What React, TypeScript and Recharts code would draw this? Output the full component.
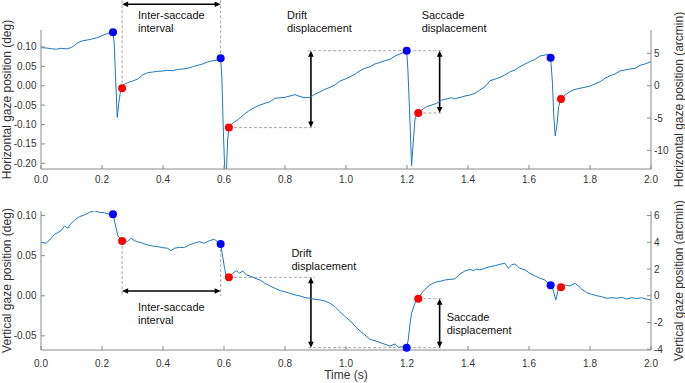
import React from 'react';
import { ComposedChart, Line, Scatter, XAxis, YAxis, ReferenceLine, ReferenceDot } from 'recharts';

// ---------- tick labels ----------
const timeTicks = [0, 0.2, 0.4, 0.6, 0.8, 1.0, 1.2, 1.4, 1.6, 1.8, 2.0];
const hDegTicks = [-0.2, -0.15, -0.1, -0.05, 0, 0.05, 0.1];
const hArcTicks = [-10, -5, 0, 5];
const vDegTicks = [-0.05, 0, 0.05, 0.1];
const vArcTicks = [-4, -2, 0, 2, 4, 6];

// ---------- horizontal trace (s, deg) ----------
const hTime = [
  0.0, 0.017, 0.034, 0.05, 0.066, 0.083, 0.099, 0.11, 0.121, 0.137, 0.153, 0.17, 0.186, 0.203, 0.219, 0.236,
  0.24, 0.244, 0.25, 0.255, 0.26, 0.266,
  0.269, 0.284, 0.3, 0.317, 0.333, 0.35, 0.366, 0.383, 0.399, 0.415, 0.432, 0.448, 0.464, 0.481, 0.497, 0.514,
  0.53, 0.546, 0.563, 0.579, 0.589,
  0.593, 0.598, 0.604, 0.608, 0.612, 0.616,
  0.625, 0.647, 0.669, 0.685, 0.702, 0.718, 0.734, 0.751, 0.767, 0.784, 0.8, 0.816, 0.833, 0.849, 0.866, 0.882,
  0.898, 0.915, 0.931, 0.948, 0.964, 0.98, 0.997, 1.013, 1.03, 1.046, 1.062, 1.079, 1.095, 1.112, 1.128, 1.144,
  1.161, 1.177, 1.19, 1.199,
  1.203, 1.207, 1.211, 1.215, 1.221, 1.226, 1.231, 1.237,
  1.248, 1.264, 1.281, 1.297, 1.313, 1.33, 1.346, 1.357, 1.374, 1.39, 1.407, 1.423, 1.439, 1.456, 1.472, 1.489,
  1.505, 1.521, 1.538, 1.554, 1.57, 1.587, 1.603, 1.62, 1.636, 1.652, 1.663, 1.671,
  1.677, 1.681, 1.686, 1.692, 1.697, 1.705,
  1.718, 1.734, 1.751, 1.767, 1.784, 1.8, 1.816, 1.833, 1.849, 1.866, 1.882, 1.898, 1.915, 1.931, 1.948, 1.964,
  1.98, 1.997, 2.0,
];
const hDeg = [
  0.098, 0.0972, 0.0954, 0.094, 0.0964, 0.095, 0.098, 0.104, 0.111, 0.116, 0.118, 0.121, 0.124, 0.13, 0.135, 0.1376,
  0.11, 0.03, -0.0815, -0.045, -0.018, -0.0068,
  0.002, 0.0078, 0.012, 0.017, 0.0276, 0.0336, 0.0353, 0.037, 0.038, 0.0396, 0.0387, 0.042, 0.043, 0.0448, 0.049, 0.0525,
  0.056, 0.061, 0.0645, 0.066, 0.0706,
  0.02, -0.12, -0.25, -0.22, -0.14, -0.108,
  -0.0987, -0.0867, -0.072, -0.0626, -0.0557, -0.0497, -0.0455, -0.0412, -0.0326, -0.031, -0.03, -0.0266, -0.023, -0.028, -0.031, -0.03,
  -0.022, -0.0155, -0.0093, -0.004, 0.002, 0.012, 0.017, 0.023, 0.03, 0.0387, 0.0448, 0.049, 0.056, 0.06, 0.0645, 0.068,
  0.0765, 0.0817, 0.086, 0.0902,
  0.04, -0.037, -0.12, -0.206, -0.14, -0.088, -0.075, -0.0704,
  -0.0626, -0.054, -0.0497, -0.0455, -0.037, -0.034, -0.031, -0.034, -0.03, -0.0266, -0.024, -0.0196, -0.011, -0.0026, 0.0129, 0.017,
  0.0216, 0.0276, 0.036, 0.0405, 0.049, 0.056, 0.062, 0.068, 0.0765, 0.079, 0.081, 0.0722,
  0.006, -0.074, -0.1296, -0.1, -0.054, -0.034,
  -0.024, -0.0155, -0.0093, -0.0067, -0.004, -0.0008, 0.0044, 0.0103, 0.019, 0.0258, 0.03, 0.0379, 0.0405, 0.043, 0.0448, 0.0525,
  0.056, 0.061, 0.062,
];

// ---------- vertical trace (s, deg) ----------
const vTime = [
  0.0, 0.017, 0.034, 0.044, 0.055, 0.066, 0.077, 0.088, 0.094, 0.11, 0.126, 0.142, 0.159, 0.175, 0.192, 0.208, 0.224, 0.236,
  0.252, 0.266,
  0.273, 0.284, 0.295, 0.306, 0.317, 0.333, 0.35, 0.366, 0.383, 0.399, 0.415, 0.426, 0.437, 0.453, 0.47, 0.486,
  0.503, 0.519, 0.535, 0.552, 0.568, 0.579, 0.589,
  0.602, 0.607, 0.616,
  0.629, 0.64, 0.651, 0.662, 0.673, 0.685, 0.702, 0.718, 0.734, 0.751, 0.767, 0.784, 0.8, 0.816, 0.833, 0.849,
  0.866, 0.882, 0.898, 0.915, 0.931, 0.948, 0.964, 0.98, 0.997, 1.013, 1.03, 1.046, 1.062, 1.079, 1.095, 1.112,
  1.128, 1.144, 1.161, 1.172, 1.183, 1.199,
  1.204, 1.21, 1.215, 1.226, 1.237,
  1.248, 1.259, 1.275, 1.292, 1.308, 1.325, 1.341, 1.357, 1.374, 1.39, 1.407, 1.418, 1.428, 1.439, 1.456, 1.472,
  1.489, 1.505, 1.521, 1.532, 1.543, 1.554, 1.57, 1.587, 1.603, 1.62, 1.636, 1.652, 1.671,
  1.679, 1.688, 1.697, 1.705,
  1.718, 1.734, 1.751, 1.762, 1.773, 1.789, 1.805, 1.822, 1.838, 1.855, 1.871, 1.888, 1.904, 1.92, 1.937, 1.953,
  1.969, 1.986, 2.0,
];
const vDeg = [
  0.0667, 0.0655, 0.0717, 0.0767, 0.0787, 0.0812, 0.087, 0.0841, 0.0883, 0.0945, 0.0986, 0.1007, 0.104, 0.106, 0.104, 0.1036, 0.1016, 0.1016,
  0.075, 0.0683,
  0.0704, 0.0675, 0.0717, 0.0687, 0.0675, 0.0655, 0.0633, 0.0621, 0.0612, 0.06, 0.0592, 0.0563, 0.0592, 0.0604, 0.06, 0.0633,
  0.0655, 0.0675, 0.0655, 0.0687, 0.0704, 0.0675, 0.0646,
  0.034, 0.0247, 0.023,
  0.028, 0.0313, 0.0283, 0.031, 0.026, 0.0247, 0.0218, 0.0197, 0.0156, 0.0122, 0.0093, 0.0064, 0.0051, 0.0031, 0.001, -0.0002,
  -0.0023, -0.0031, -0.0044, -0.0052, -0.0065, -0.0094, -0.0136, -0.0198, -0.026, -0.031, -0.0377, -0.0439, -0.0489, -0.0543, -0.056, -0.0585,
  -0.0605, -0.0626, -0.0601, -0.0642, -0.0635, -0.0647,
  -0.055, -0.0343, -0.0218, -0.0094, -0.0036,
  0.0031, 0.0081, 0.0135, 0.0168, 0.018, 0.0197, 0.0205, 0.021, 0.0272, 0.0309, 0.033, 0.0313, 0.0334, 0.0322, 0.0343, 0.0363,
  0.0375, 0.0393, 0.0405, 0.0343, 0.0384, 0.0397, 0.0343, 0.0322, 0.028, 0.0247, 0.0218, 0.0197, 0.0131,
  0.0072, -0.0052, 0.0099, 0.0105,
  0.0135, 0.0122, 0.0156, 0.0122, 0.0081, 0.0039, 0.0019, 0.0001, -0.0011, -0.0031, -0.0023, -0.0031, -0.0019, -0.004, -0.0023, -0.0036,
  -0.0023, -0.0044, -0.0052,
];

// ---------- saccade onset (blue) / offset (red) ----------
const onsetTimes = [0.236, 0.589, 1.199, 1.671];
const offsetTimes = [0.266, 0.616, 1.237, 1.705];
const hOnset = [0.1376, 0.0706, 0.0902, 0.0722];
const hOffset = [-0.0068, -0.108, -0.0704, -0.034];
const vOnset = [0.1016, 0.0646, -0.0647, 0.0131];
const vOffset = [0.0683, 0.023, -0.0036, 0.0105];

// ---------- annotation anchors (data units) ----------
const driftArrowT = 0.885;
const saccArrowT = 1.307;
const dashStartT = 0.876;
const dashEndDriftT = 0.898;
const dashEndSaccT = 1.314;
const hIntervalArrowV = 0.2098;
const hIntervalTopV = 0.22;
const vIntervalArrowV = 0.006;
const vIntervalBottomV = -0.0005;
const hTextV = 0.1824;
const hTextT = [0.318, 0.8066, 1.248];
const vTextT = [0.318, 0.821, 1.33];
const vTextV = [-0.0143, 0.0537, -0.0268];

const hDomain = [-0.2147, 0.1436];
const vDomain = [-0.0676, 0.1057];

const zip = (ts: number[], vs: number[]) => ts.map((t, i) => ({ t, v: vs[i] }));
const hData = zip(hTime, hDeg);
const vData = zip(vTime, vDeg);

const FONT = '"Liberation Sans", Arial, Helvetica, sans-serif';
const AXIS = '#8a8a8a';
const TICKTXT = '#333333';
const LINE = '#1f78b8';
const DASH = '#a6a6a6';

const arrowShape = (p: any) => {
  const { x1, y1, x2, y2 } = p;
  const dx = x2 - x1;
  const dy = y2 - y1;
  const len = Math.hypot(dx, dy) || 1;
  const ux = dx / len;
  const uy = dy / len;
  const hl = 6;
  const hw = 2.8;
  const head = (x: number, y: number, ex: number, ey: number) =>
    `${x},${y} ${x - ex * hl - ey * hw},${y - ey * hl + ex * hw} ${x - ex * hl + ey * hw},${y - ey * hl - ex * hw}`;
  return (
    <g>
      <line x1={x1 + ux * 3} y1={y1 + uy * 3} x2={x2 - ux * 3} y2={y2 - uy * 3} stroke="#000" strokeWidth={1.6} />
      <polygon points={head(x2, y2, ux, uy)} fill="#000" />
      <polygon points={head(x1, y1, -ux, -uy)} fill="#000" />
    </g>
  );
};

const twoLineText = (l1: string, l2: string) => (p: any) => (
  <text x={p.cx} y={p.cy + 4} fontSize={11} fill="#111" fontFamily={FONT}>
    <tspan x={p.cx}>{l1}</tspan>
    <tspan x={p.cx} dy={13}>{l2}</tspan>
  </text>
);

const yTitle = (text: string, side: 'left' | 'right') => (props: any) => {
  const vb = props.viewBox || { x: 0, y: 0, width: 0, height: 0 };
  const cx = side === 'left' ? vb.x + 7 : vb.x + 28;
  const cy = vb.y + vb.height / 2;
  return (
    <text x={cx} y={cy} transform={`rotate(-90, ${cx}, ${cy})`} textAnchor="middle" dominantBaseline="central" fontSize={12} fill={TICKTXT} fontFamily={FONT}>
      {text}
    </text>
  );
};

const xTitle = (props: any) => {
  const vb = props.viewBox || { x: 0, y: 0, width: 0, height: 0 };
  const cx = vb.x + vb.width / 2;
  const cy = vb.y + 25;
  return (
    <text x={cx} y={cy} textAnchor="middle" dominantBaseline="central" fontSize={12} fill={TICKTXT} fontFamily={FONT}>
      Time (s)
    </text>
  );
};

const dotShape = (color: string) => (p: any) => <circle cx={p.cx} cy={p.cy} r={4} fill={color} stroke="none" />;

const dashed = (key: string, a: { x: number; y: number }, b: { x: number; y: number }) => (
  <ReferenceLine key={key} yAxisId="l" segment={[a, b]} stroke={DASH} strokeWidth={1} strokeDasharray="3 2" ifOverflow="visible" />
);
const arrow = (key: string, a: { x: number; y: number }, b: { x: number; y: number }) => (
  <ReferenceLine key={key} yAxisId="l" segment={[a, b]} ifOverflow="visible" shape={arrowShape} />
);

const tickStyle = { fill: TICKTXT, fontSize: 10, fontFamily: FONT };

function Panel(props: {
  data: { t: number; v: number }[];
  onsetV: number[];
  offsetV: number[];
  domain: number[];
  degTicks: number[];
  arcTicks: number[];
  height: number;
  top: number;
  xAxisHeight: number;
  xTickMargin: number;
  degTitle: string;
  arcTitle: string;
  showTime: boolean;
  annotations: React.ReactNode[];
}) {
  const { data, onsetV, offsetV, domain, height, top } = props;
  const onsetPts = zip(onsetTimes, onsetV);
  const offsetPts = zip(offsetTimes, offsetV);
  return (
    <ComposedChart width={685} height={height} margin={{ top, right: 0, bottom: 0, left: 0 }}>
      <XAxis
        type="number"
        dataKey="t"
        domain={[0, 2]}
        ticks={timeTicks}
        tickFormatter={(v: number) => v.toFixed(1)}
        height={props.xAxisHeight}
        tickSize={-4}
        tickMargin={props.xTickMargin}
        axisLine={{ stroke: AXIS }}
        tickLine={{ stroke: AXIS }}
        tick={tickStyle}
        label={props.showTime ? xTitle : undefined}
      />
      <YAxis
        yAxisId="l"
        type="number"
        domain={domain}
        allowDataOverflow
        ticks={props.degTicks}
        tickFormatter={(v: number) => v.toFixed(2)}
        width={41}
        tickSize={-4}
        tickMargin={8.5}
        axisLine={{ stroke: AXIS }}
        tickLine={{ stroke: AXIS }}
        tick={tickStyle}
        label={yTitle(props.degTitle, 'left')}
      />
      <YAxis
        yAxisId="r"
        orientation="right"
        type="number"
        domain={[domain[0] * 60, domain[1] * 60]}
        allowDataOverflow
        ticks={props.arcTicks}
        tickFormatter={(v: number) => String(Math.round(v))}
        width={34}
        tickSize={-4}
        tickMargin={7}
        axisLine={{ stroke: AXIS }}
        tickLine={{ stroke: AXIS }}
        tick={tickStyle}
        label={yTitle(props.arcTitle, 'right')}
      />
      <YAxis yAxisId="dots" orientation="right" type="number" domain={domain} width={0} hide />
      {props.annotations}
      <Line
        yAxisId="l"
        data={data}
        dataKey="v"
        type="linear"
        stroke={LINE}
        strokeWidth={1}
        dot={false}
        activeDot={false}
        isAnimationActive={false}
      />
      <Scatter yAxisId="dots" data={onsetPts} dataKey="v" shape={dotShape('#0000ff')} isAnimationActive={false} />
      <Scatter yAxisId="dots" data={offsetPts} dataKey="v" shape={dotShape('#ff0000')} isAnimationActive={false} />
    </ComposedChart>
  );
}

const topAnnotations = [
  dashed('h1', { x: offsetTimes[0], y: hOffset[0] }, { x: offsetTimes[0], y: hIntervalTopV }),
  dashed('h2', { x: onsetTimes[1], y: hOnset[1] }, { x: onsetTimes[1], y: hIntervalTopV }),
  arrow('ha1', { x: offsetTimes[0], y: hIntervalArrowV }, { x: onsetTimes[1], y: hIntervalArrowV }),
  dashed('h3', { x: offsetTimes[1], y: hOffset[1] }, { x: dashEndDriftT, y: hOffset[1] }),
  dashed('h4', { x: dashStartT, y: hOnset[2] }, { x: dashEndSaccT, y: hOnset[2] }),
  dashed('h5', { x: offsetTimes[2], y: hOffset[2] }, { x: dashEndSaccT, y: hOffset[2] }),
  arrow('ha2', { x: driftArrowT, y: hOnset[2] }, { x: driftArrowT, y: hOffset[1] }),
  arrow('ha3', { x: saccArrowT, y: hOnset[2] }, { x: saccArrowT, y: hOffset[2] }),
  <ReferenceDot key="ht1" yAxisId="l" x={hTextT[0]} y={hTextV} r={0} ifOverflow="visible" shape={twoLineText('Inter-saccade', 'interval')} />,
  <ReferenceDot key="ht2" yAxisId="l" x={hTextT[1]} y={hTextV} r={0} ifOverflow="visible" shape={twoLineText('Drift', 'displacement')} />,
  <ReferenceDot key="ht3" yAxisId="l" x={hTextT[2]} y={hTextV} r={0} ifOverflow="visible" shape={twoLineText('Saccade', 'displacement')} />,
];

const bottomAnnotations = [
  dashed('v1', { x: offsetTimes[0], y: vOffset[0] }, { x: offsetTimes[0], y: vIntervalBottomV }),
  dashed('v2', { x: onsetTimes[1], y: vOnset[1] }, { x: onsetTimes[1], y: vIntervalBottomV }),
  arrow('va1', { x: offsetTimes[0], y: vIntervalArrowV }, { x: onsetTimes[1], y: vIntervalArrowV }),
  dashed('v3', { x: offsetTimes[1], y: vOffset[1] }, { x: dashEndDriftT, y: vOffset[1] }),
  dashed('v4', { x: dashStartT, y: vOnset[2] }, { x: dashEndSaccT, y: vOnset[2] }),
  dashed('v5', { x: offsetTimes[2], y: vOffset[2] }, { x: dashEndSaccT, y: vOffset[2] }),
  arrow('va2', { x: driftArrowT, y: vOffset[1] }, { x: driftArrowT, y: vOnset[2] }),
  arrow('va3', { x: saccArrowT, y: vOffset[2] }, { x: saccArrowT, y: vOnset[2] }),
  <ReferenceDot key="vt1" yAxisId="l" x={vTextT[0]} y={vTextV[0]} r={0} ifOverflow="visible" shape={twoLineText('Inter-saccade', 'interval')} />,
  <ReferenceDot key="vt2" yAxisId="l" x={vTextT[1]} y={vTextV[1]} r={0} ifOverflow="visible" shape={twoLineText('Drift', 'displacement')} />,
  <ReferenceDot key="vt3" yAxisId="l" x={vTextT[2]} y={vTextV[2]} r={0} ifOverflow="visible" shape={twoLineText('Saccade', 'displacement')} />,
];

export default function App() {
  return (
    <div style={{ position: 'relative', width: 685, height: 383, background: '#fff', fontFamily: FONT, overflow: 'hidden' }}>
      <style>{'body{margin:0;background:#fff;}'}</style>
      <div style={{ position: 'absolute', left: 0, top: 0 }}>
        <Panel
          data={hData}
          onsetV={hOnset}
          offsetV={hOffset}
          domain={hDomain}
          degTicks={hDegTicks}
          arcTicks={hArcTicks}
          height={190}
          top={30}
          xAxisHeight={21}
          xTickMargin={11}
          degTitle="Horizontal gaze position (deg)"
          arcTitle="Horizontal gaze position (arcmin)"
          showTime={false}
          annotations={topAnnotations}
        />
      </div>
      <div style={{ position: 'absolute', left: 0, top: 190 }}>
        <Panel
          data={vData}
          onsetV={vOnset}
          offsetV={vOffset}
          domain={vDomain}
          degTicks={vDegTicks}
          arcTicks={vArcTicks}
          height={193}
          top={21}
          xAxisHeight={33}
          xTickMargin={14}
          degTitle="Vertical gaze position (deg)"
          arcTitle="Vertical gaze position (arcmin)"
          showTime={true}
          annotations={bottomAnnotations}
        />
      </div>
    </div>
  );
}
